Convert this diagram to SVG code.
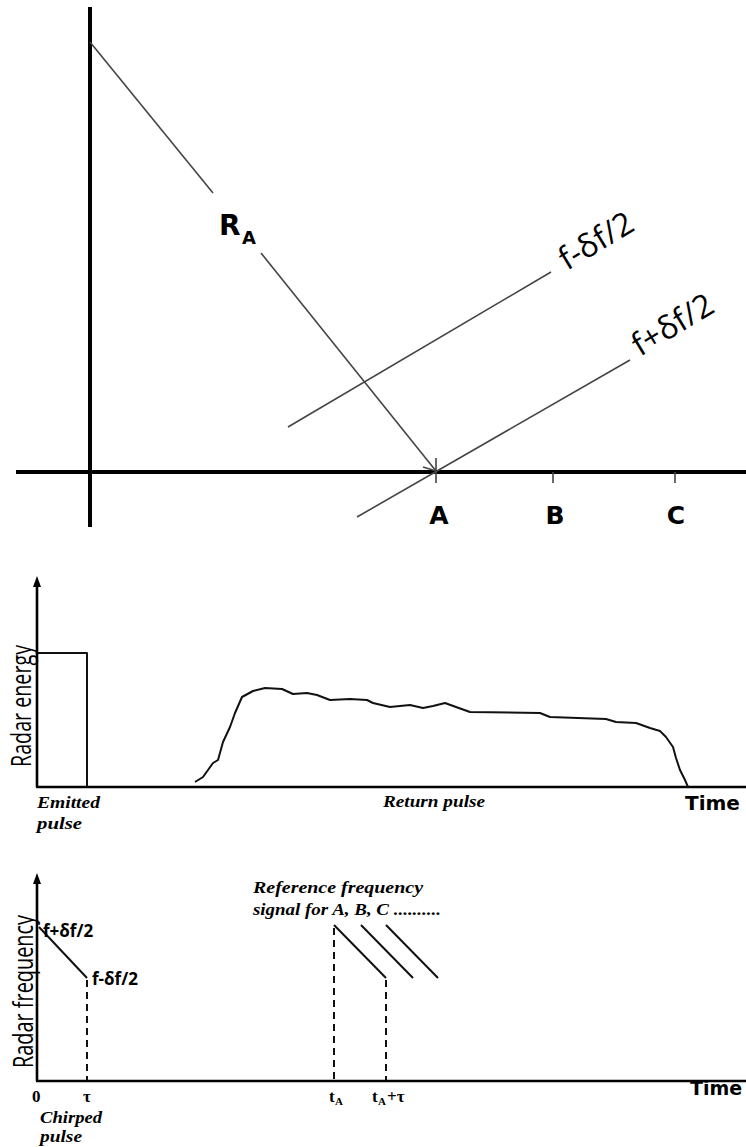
<svg xmlns="http://www.w3.org/2000/svg" width="746" height="1147" viewBox="0 0 746 1147">
<style>
.thick{stroke:#000;stroke-width:4;fill:none;stroke-linecap:butt}
.thin{stroke:#444;stroke-width:1.6;fill:none}
.axis{stroke:#000;stroke-width:2.6;fill:none}
.sig{stroke:#111;stroke-width:2;fill:none;stroke-linejoin:round}
.dash{stroke:#111;stroke-width:2;fill:none;stroke-dasharray:7,5}
.lbl{font-family:"DejaVu Sans",Verdana,sans-serif;font-weight:bold;fill:#000}
.cal{font-family:"Open Sans","Liberation Sans",sans-serif;fill:#000}
.it{font-family:"Liberation Serif","Times New Roman",serif;font-weight:bold;font-style:italic;fill:#000}
.up{font-family:"Liberation Serif","Times New Roman",serif;font-weight:bold;fill:#000}
</style>
<defs>
<marker id="up" markerWidth="12" markerHeight="10" refX="2" refY="4" orient="auto" markerUnits="userSpaceOnUse">
<path d="M0,0 L11,4 L0,8 Z" fill="#000"/>
</marker>
</defs>
<rect width="746" height="1147" fill="#fff"/>

<g id="geometry">
<line class="thick" x1="90" y1="7" x2="90" y2="527"/>
<line class="thick" x1="16" y1="472" x2="746" y2="472"/>
<line class="thin" x1="90" y1="42" x2="213" y2="193"/>
<line class="thin" x1="261" y1="253" x2="436" y2="471"/>
<polyline class="thin" points="423,467 436,471 436,458"/>
<line class="thin" x1="436" y1="472" x2="436" y2="483"/>
<line class="thin" x1="553" y1="472" x2="553" y2="483"/>
<line class="thin" x1="675" y1="472" x2="675" y2="483"/>
<line class="thin" x1="288" y1="427" x2="551" y2="272"/>
<line class="thin" x1="357" y1="517" x2="630" y2="360"/>
</g>
<g id="geometry-labels">
<text class="lbl" x="219" y="235" font-size="28">R</text>
<text class="lbl" x="242" y="244" font-size="18">A</text>
<text class="cal" font-size="32" transform="translate(567,271) rotate(-31)">f-δf/2</text>
<text class="cal" font-size="32" transform="translate(640,357) rotate(-31)">f+δf/2</text>
<text class="lbl" x="439" y="524" font-size="25" text-anchor="middle">A</text>
<text class="lbl" x="555" y="524" font-size="25" text-anchor="middle">B</text>
<text class="lbl" x="676" y="524" font-size="25" text-anchor="middle">C</text>
</g>

<g id="energy-plot">
<line class="axis" x1="37" y1="787" x2="37" y2="585" marker-end="url(#up)"/>
<line class="axis" x1="36" y1="787" x2="746" y2="787"/>
<polyline class="sig" points="37,653 87,653 87,787"/>
<polyline class="sig" points="195,782 203,777 208,770 213,763 218,760 223,742 230,727 235,713 242,697 253,691 265,688 282,689 293,694 307,693 317,695 330,700 350,699 367,700 373,703 390,707 410,705 423,708 433,706 445,703 456,707 470,712 540,713 550,717 606,719 616,722 636,723 650,728 660,731 666,737 673,747 676,758 680,770 685,780 688,787"/>
<text class="cal" font-size="27" transform="translate(31,767) rotate(-90)" textLength="122" lengthAdjust="spacingAndGlyphs">Radar energy</text>
<text class="it" x="37" y="808" font-size="16" textLength="63" lengthAdjust="spacingAndGlyphs">Emitted</text>
<text class="it" x="37" y="829" font-size="16" textLength="45" lengthAdjust="spacingAndGlyphs">pulse</text>
<text class="it" x="383" y="807" font-size="16" textLength="102" lengthAdjust="spacingAndGlyphs">Return pulse</text>
<text class="lbl" x="685" y="810" font-size="20">Time</text>
</g>

<g id="frequency-plot">
<line class="axis" x1="37" y1="1081" x2="37" y2="882" marker-end="url(#up)"/>
<line class="axis" x1="36" y1="1081" x2="746" y2="1081"/>
<polyline class="sig" points="39,927 87,978"/>
<line class="dash" x1="87" y1="980" x2="87" y2="1080"/>
<line class="sig" x1="334" y1="925" x2="386" y2="978"/>
<line class="dash" x1="334" y1="928" x2="334" y2="1080"/>
<line class="dash" x1="386" y1="980" x2="386" y2="1080"/>
<line class="sig" x1="361" y1="925" x2="413" y2="978"/>
<line class="sig" x1="386" y1="925" x2="438" y2="978"/>
<text class="cal" font-size="28" transform="translate(33,1068) rotate(-90)" textLength="153" lengthAdjust="spacingAndGlyphs">Radar frequency</text>
<text class="cal" x="43" y="937" font-size="17" font-weight="bold">f+δf/2</text>
<text class="cal" x="92" y="985" font-size="17" font-weight="bold">f-δf/2</text>
<text class="it" x="253" y="893" font-size="16" textLength="170" lengthAdjust="spacingAndGlyphs">Reference frequency</text>
<text class="it" x="253" y="915" font-size="16" textLength="188" lengthAdjust="spacingAndGlyphs">signal for A, B, C ..........</text>
<text class="up" x="32" y="1102" font-size="17">0</text>
<text class="up" x="83" y="1102" font-size="17">τ</text>
<text class="up" x="329" y="1102" font-size="17">t</text>
<text class="up" x="335" y="1105" font-size="11">A</text>
<text class="up" x="372" y="1102" font-size="17">t</text>
<text class="up" x="378" y="1105" font-size="11">A</text>
<text class="up" x="387" y="1102" font-size="17">+τ</text>
<text class="it" x="40" y="1123" font-size="16" textLength="62" lengthAdjust="spacingAndGlyphs">Chirped</text>
<text class="it" x="40" y="1142" font-size="16" textLength="42" lengthAdjust="spacingAndGlyphs">pulse</text>
<text class="lbl" x="690" y="1095" font-size="19">Time</text>
</g>
</svg>
